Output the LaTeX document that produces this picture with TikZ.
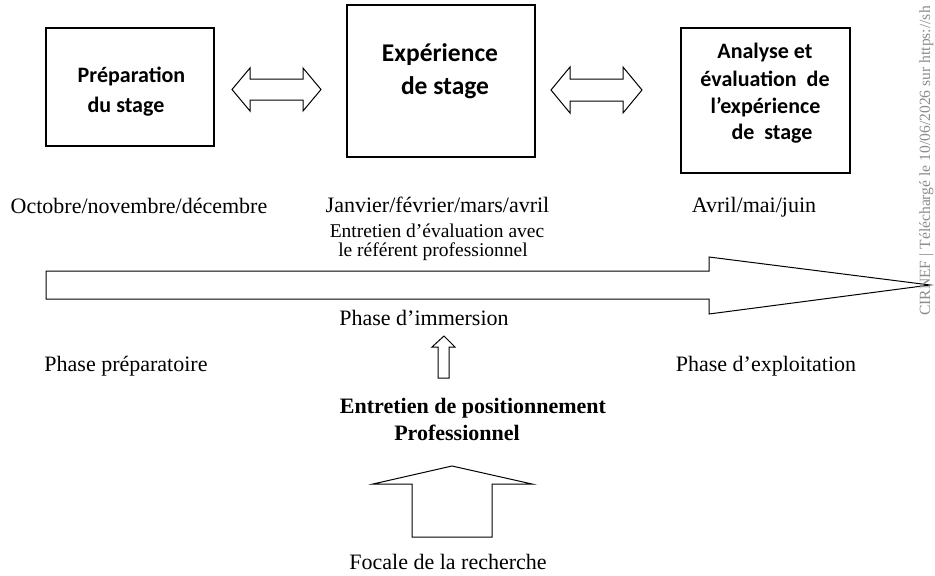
\documentclass[tikz,border=0pt]{standalone}
\usepackage{fontspec}
\setmainfont{Liberation Serif}
\newfontfamily\calibri{Carlito}
\begin{document}
\begin{tikzpicture}[x=1pt,y=-1pt,
  box/.style={draw, line width=1.3pt, inner sep=0pt, outer sep=0pt},
  blk/.style={draw, line width=1pt, line join=miter},
  tl/.style={font=\fontsize{22}{26}\selectfont, anchor=base, inner sep=0pt},
  sl/.style={font=\fontsize{19.5}{22}\selectfont, anchor=base, inner sep=0pt},
  bl/.style={font=\fontsize{22}{26}\selectfont\bfseries, anchor=base, inner sep=0pt},
  cl/.style={font=\calibri\bfseries\fontsize{22}{26}\selectfont, anchor=base, inner sep=0pt},
  cbig/.style={font=\calibri\bfseries\fontsize{25.5}{30}\selectfont, anchor=base, inner sep=0pt}]
\useasboundingbox (0,0) rectangle (935,576);

% boxes
\node[box, minimum width=168pt, minimum height=118pt] (prep) at (130,87) {};
\node[box, minimum width=188pt, minimum height=152pt] (exp) at (441,81) {};
\node[box, minimum width=169pt, minimum height=145pt] (ana) at (765.5,100.5) {};

\node[cl] (prep1) at (131.5,82) {Préparation};
\node[cl] (prep2) at (126,112) {du stage};

\node[cbig] (exp1) at (440,61) {Expérience};
\node[cbig] (exp2) at (445,94) {de stage};

\node[cl] (ana1) at (765,58) {Analyse et};
\node[cl] (ana2) at (765,86) {évaluation\ \ de};
\node[cl] (ana3) at (765.5,113) {l’expérience};
\node[cl] (ana4) at (772,139) {de\ \ stage};

% double arrows
\draw[blk] (232,89.5) -- (250,68) -- (250,79) -- (303,79) -- (303,68) -- (321,89.5)
  -- (303,111) -- (303,100) -- (250,100) -- (250,111) -- cycle;
\draw[blk] (551,90) -- (570,67) -- (570,79) -- (623,79) -- (623,67) -- (642,90)
  -- (623,113) -- (623,101) -- (570,101) -- (570,113) -- cycle;

% period labels
\node[tl] (oct) at (139,213) {Octobre/novembre/décembre};
\node[tl] (jan) at (437.5,212) {Janvier/février/mars/avril};
\node[tl] (avr) at (754,212) {Avril/mai/juin};
\node[sl] (ent1) at (437,237) {Entretien d’évaluation avec};
\node[sl] (ent2) at (433,256) {le référent professionnel};

% big timeline arrow
\draw[blk] (46,271) -- (709,271) -- (709,257) -- (930,285) -- (709,314) -- (709,299)
  -- (46,299) -- cycle;

% phases
\node[tl] (imm) at (424,325) {Phase d’immersion};
\node[tl] (prepa) at (126,371) {Phase préparatoire};
\node[tl] (expl) at (766,371) {Phase d’exploitation};

% small up arrow
\draw[blk] (444,336) -- (455,347) -- (449,347) -- (449,378) -- (438,378) -- (438,347)
  -- (432,347) -- cycle;

\node[bl] (pos1) at (473,413) {Entretien de positionnement};
\node[bl] (pos2) at (457,440) {Professionnel};

% big up arrow
\draw[blk] (452,466) -- (532,484) -- (492,484) -- (492,537) -- (412,537) -- (412,484)
  -- (373,484) -- cycle;

\node[tl] (foc) at (448,569) {Focale de la recherche};

% watermark
\node[rotate=90, anchor=base west, inner sep=0pt, text=black!45,
  font=\fontsize{15.6}{16}\selectfont] (wm) at (930,316)
  {CIRNEF | Téléchargé le 10/06/2026 sur https://sh};
\end{tikzpicture}
\end{document}
